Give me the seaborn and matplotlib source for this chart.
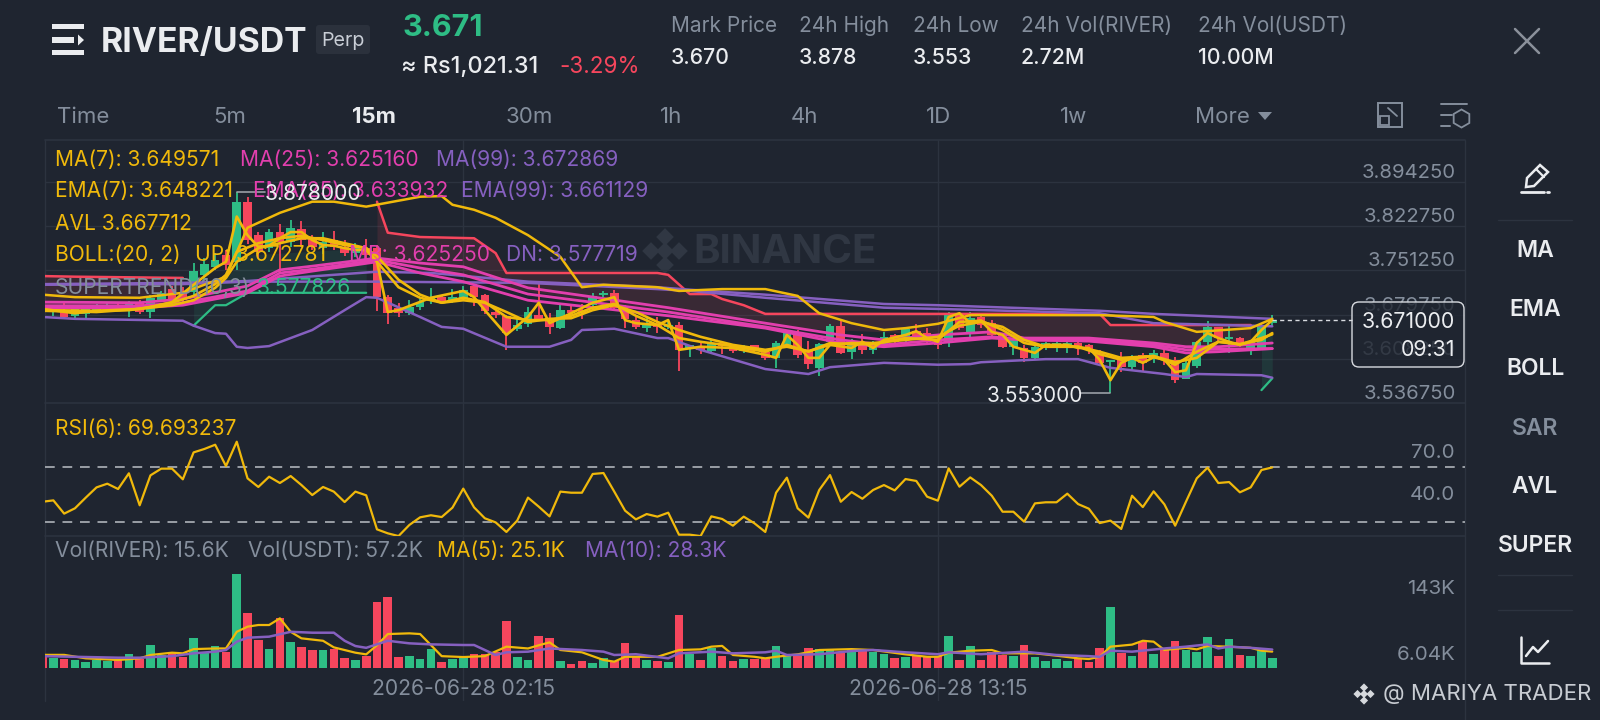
import numpy as np
import matplotlib
matplotlib.use("Agg")
import matplotlib.pyplot as plt
from matplotlib.patches import FancyBboxPatch, Rectangle, Polygon
import seaborn as sns

BG = "#1f2530"; GRID = "#2c333f"; GREEN = "#2EBD85"; RED = "#F6465D"
YEL = "#F0B90B"; MAG = "#E23FAE"; PUR = "#8660C0"; GRAY = "#848E9C"; WHITE = "#EAECEF"

opens = [3.694,3.686,3.687,3.678,3.681,3.687,3.689,3.695,3.691,3.699,3.684,3.703,3.721,3.716,3.716,3.744,3.757,3.776,3.765,3.862,
 3.808,3.787,3.813,3.797,3.818,3.805,3.787,3.800,3.789,3.779,3.787,3.787,3.708,3.691,3.682,3.692,3.702,3.708,3.702,3.707,
 3.726,3.712,3.684,3.678,3.657,3.665,3.679,3.674,3.658,3.687,3.687,3.695,3.712,3.715,3.689,3.671,3.658,3.663,3.660,3.663,
 3.626,3.626,3.621,3.634,3.629,3.621,3.631,3.620,3.610,3.631,3.650,3.623,3.594,3.636,3.662,3.620,3.636,3.623,3.631,3.647,
 3.639,3.653,3.650,3.639,3.636,3.681,3.652,3.676,3.666,3.647,3.628,3.626,3.610,3.628,3.628,3.628,3.634,3.631,3.620,3.603,
 3.607,3.595,3.615,3.610,3.618,3.607,3.576,3.597,3.636,3.660,3.641,3.642,3.626,3.626,3.666]
closes = [3.686,3.694,3.676,3.689,3.689,3.694,3.695,3.689,3.699,3.684,3.707,3.715,3.705,3.703,3.750,3.762,3.768,3.760,3.862,3.800,
 3.781,3.813,3.797,3.820,3.800,3.789,3.797,3.789,3.779,3.789,3.776,3.708,3.682,3.682,3.692,3.700,3.708,3.702,3.708,3.720,
 3.708,3.686,3.679,3.650,3.663,3.684,3.673,3.660,3.687,3.682,3.682,3.710,3.715,3.691,3.673,3.660,3.663,3.660,3.663,3.623,
 3.631,3.623,3.634,3.629,3.621,3.628,3.621,3.610,3.634,3.650,3.615,3.600,3.632,3.662,3.618,3.634,3.623,3.634,3.644,3.636,
 3.657,3.642,3.636,3.631,3.681,3.658,3.674,3.663,3.647,3.628,3.639,3.610,3.628,3.634,3.634,3.634,3.626,3.623,3.602,3.607,
 3.595,3.610,3.602,3.618,3.607,3.574,3.602,3.636,3.660,3.642,3.644,3.631,3.636,3.662,3.671]
highs = [3.697,3.695,3.699,3.692,3.692,3.697,3.699,3.700,3.702,3.703,3.712,3.718,3.726,3.724,3.763,3.771,3.779,3.784,3.878,3.870,
 3.813,3.818,3.826,3.833,3.831,3.808,3.813,3.815,3.800,3.795,3.802,3.792,3.712,3.699,3.703,3.705,3.723,3.712,3.721,3.726,
 3.729,3.713,3.686,3.679,3.678,3.692,3.729,3.682,3.695,3.694,3.697,3.715,3.718,3.720,3.695,3.676,3.674,3.676,3.668,3.668,
 3.631,3.634,3.639,3.636,3.632,3.631,3.631,3.624,3.637,3.653,3.655,3.637,3.634,3.665,3.670,3.641,3.649,3.637,3.652,3.649,
 3.660,3.665,3.658,3.645,3.684,3.682,3.684,3.678,3.671,3.650,3.642,3.631,3.631,3.636,3.639,3.637,3.636,3.632,3.623,3.607,
 3.620,3.615,3.618,3.623,3.628,3.611,3.610,3.637,3.670,3.660,3.663,3.644,3.639,3.665,3.679]
lows = [3.682,3.678,3.674,3.674,3.674,3.684,3.686,3.686,3.676,3.681,3.674,3.700,3.702,3.700,3.712,3.736,3.752,3.752,3.752,3.794,
 3.771,3.781,3.749,3.789,3.789,3.784,3.778,3.784,3.774,3.773,3.765,3.686,3.665,3.676,3.679,3.687,3.697,3.699,3.699,3.703,
 3.694,3.681,3.674,3.623,3.653,3.660,3.670,3.649,3.657,3.674,3.673,3.691,3.708,3.687,3.658,3.657,3.652,3.650,3.657,3.589,
 3.611,3.616,3.620,3.616,3.618,3.618,3.618,3.607,3.594,3.628,3.610,3.592,3.581,3.631,3.616,3.608,3.616,3.616,3.626,3.631,
 3.634,3.639,3.634,3.624,3.628,3.655,3.642,3.658,3.642,3.626,3.615,3.603,3.608,3.623,3.620,3.618,3.615,3.616,3.599,3.553,
 3.587,3.590,3.587,3.602,3.599,3.570,3.576,3.594,3.631,3.634,3.618,3.628,3.615,3.623,3.662]
volumes = [17,15,14,12,8.3,12,10.4,12,22,13.5,35,20,25,17,47,25,34,25,146,86,43,29,77,40,33,28,28,29,15,12,
 19,103,111,17,18,14,29,9.4,14,16,22,22,25,73,17,12,49,46,11,6,10,7,15,10,38,17,12,10,9,83,
 22,12.5,30,18,10,13.5,13,15,34,18,18,31,29,28,23,28,28,25,21,15,17,19,17,18,50,12,34,12,24,20,
 18,35,17,10,14,11,15,9.4,30,94,23,19,40,21,27,41,27,25,48,18,45,20,19,27,15.6]

boll_up_x = [0,3,9,13,17,19,22,25,27,30,35,37,38,40,42,45,48,50,52,57,59,63,67,70,72,75,78,80,83,86,93,98,103,104,107,112,114]
boll_up = [3.712,3.708,3.707,3.715,3.741,3.820,3.844,3.862,3.862,3.854,3.870,3.871,3.857,3.849,3.836,3.808,3.773,3.724,3.728,3.724,3.718,3.721,3.721,3.710,3.682,3.666,3.655,3.658,3.665,3.679,3.679,3.679,3.676,3.668,3.652,3.658,3.673]
boll_dn_x = [0,3,13,14,16,17,18,19,21,25,28,30,31,35,37,39,43,47,49,50,53,57,58,61,67,71,73,78,83,86,87,93,96,99,104,106,107,113,114]
boll_dn = [3.676,3.673,3.670,3.662,3.650,3.649,3.628,3.626,3.629,3.655,3.687,3.708,3.707,3.676,3.660,3.657,3.628,3.628,3.639,3.655,3.657,3.642,3.642,3.623,3.592,3.584,3.595,3.602,3.599,3.600,3.603,3.608,3.608,3.594,3.584,3.579,3.584,3.582,3.578]
st_red1_x = [0,3,13]
st_red1 = [3.742,3.741,3.739]
st_red2_x = [31,32,35,40,42,43,57,58,60,62,63,65,67,98,99,112]
st_red2 = [3.862,3.812,3.805,3.803,3.779,3.747,3.747,3.744,3.713,3.713,3.705,3.695,3.681,3.681,3.663,3.663]
st_green1_x = [14,16,17,19,30]
st_green1 = [3.662,3.695,3.695,3.715,3.715]
st_green2_x = [113,114]
st_green2 = [3.558,3.577]
ma99_x = [0,13,19,31,36,45,57,60,67,78,83,98,103,114]
ma99 = [3.729,3.731,3.734,3.749,3.747,3.733,3.724,3.720,3.712,3.697,3.695,3.686,3.681,3.673]
ema99_x = [0,13,19,31,45,57,60,67,78,83,98,103,114]
ema99 = [3.728,3.729,3.733,3.733,3.731,3.721,3.718,3.707,3.691,3.689,3.682,3.666,3.661]
mid_x = [0,9,13,19,22,25,31,35,39,45,58,67,74,78,83,88,91,97,103,106,109,114]
ema25 = [3.700,3.699,3.705,3.726,3.752,3.758,3.771,3.763,3.757,3.723,3.691,3.666,3.647,3.639,3.647,3.652,3.642,3.642,3.634,3.628,3.628,3.634]
ma25 = [3.694,3.694,3.699,3.718,3.747,3.753,3.768,3.755,3.744,3.713,3.684,3.660,3.639,3.631,3.639,3.644,3.639,3.639,3.631,3.623,3.624,3.625]
boll_mb = [3.691,3.691,3.695,3.715,3.742,3.750,3.765,3.747,3.733,3.703,3.678,3.658,3.634,3.628,3.634,3.642,3.639,3.637,3.628,3.618,3.620,3.625]
avl_x = [0,3,5,8,10,12,14,16,17,18,19,20,21,22,23,24,25,26,27,28,29,30,31,32,33,36,39,40,41,43,45,46,47,49,51,53,54,55,57,58,59,61,64,67,68,69,70,71,72,73,75,76,77,78,80,81,82,83,84,85,86,87,88,89,90,91,92,93,95,96,97,98,99,100,101,102,103,104,105,106,107,108,109,110,111,112,113,114]
avl = [3.689,3.682,3.686,3.687,3.692,3.700,3.728,3.755,3.765,3.838,
 3.808,3.789,3.791,3.803,3.813,3.813,3.800,3.792,3.791,3.787,
 3.784,3.784,3.765,3.684,3.687,3.707,3.718,3.708,3.687,3.647,
 3.676,3.699,3.666,3.682,3.699,3.708,3.671,3.666,3.663,3.671,
 3.623,3.628,3.626,3.615,3.610,3.647,3.631,3.610,3.610,3.631,
 3.626,3.636,3.626,3.639,3.647,3.653,3.642,3.636,3.676,3.682,
 3.666,3.670,3.652,3.647,3.628,3.623,3.618,3.631,3.631,3.626,
 3.626,3.607,3.574,3.602,3.610,3.602,3.611,3.607,3.587,3.590,
 3.634,3.650,3.642,3.636,3.631,3.636,3.655,3.671]
fast_x = [0,5,9,12,14,16,17,18,20,22,24,26,28,30,31,33,35,37,39,41,43,45,47,49,51,53,55,57,59,61,64,67,69,71,73,75,77,80,83,85,87,89,91,93,96,98,100,103,105,107,109,111,113,114]
ma7 = [3.686,3.684,3.689,3.695,3.703,3.723,3.739,3.765,3.787,3.795,3.803,3.803,3.795,3.787,3.774,3.736,3.712,3.699,3.703,3.699,
 3.684,3.668,3.673,3.674,3.687,3.695,3.684,3.668,3.655,3.644,3.631,3.623,3.628,3.621,3.631,3.634,3.634,3.639,3.644,3.662,
 3.668,3.660,3.639,3.628,3.628,3.620,3.610,3.613,3.603,3.610,3.636,3.632,3.639,3.650]
ema7 = [3.687,3.686,3.689,3.699,3.710,3.729,3.744,3.781,3.795,3.803,3.807,3.800,3.792,3.787,3.765,3.724,3.707,3.699,3.707,3.700,
 3.676,3.671,3.671,3.678,3.691,3.697,3.678,3.663,3.642,3.636,3.629,3.620,3.631,3.620,3.634,3.632,3.632,3.642,3.639,3.668,
 3.670,3.655,3.634,3.628,3.628,3.616,3.607,3.613,3.599,3.620,3.636,3.632,3.642,3.648]

rsi6 = [44.6,45.6,35.9,39.8,47.6,55.1,57.8,53.9,65.4,42,63.9,68.8,68.8,61,80.7,83.2,86.3,70.7,88.5,61.7,
 55.4,62.9,58.3,63.4,56.8,49.5,55.4,52,44.4,52,49.3,24.4,21.5,19.5,27.6,33.2,34.7,33.4,40.3,54.2,
 40.5,32.5,29.5,22.5,30.8,47.6,41,33.9,52,51.2,51.2,64.9,65.6,52,38.1,31.7,35.6,33.7,36.6,20.5,
 20.5,19.5,33.9,32,27.1,33.7,28.8,22.5,51.2,62.2,39.8,33,53.2,64.1,44.6,51.7,46.8,53.2,56.8,52.9,
 61.2,59.8,48.3,45.4,69,55.6,62.4,56.8,49,37.3,37.3,30,43.4,44.2,44.2,50.5,42.9,39.5,29,30.8,
 24.7,49,40.7,52.2,42.7,27.1,44.6,61.7,69.5,58.3,59,51.5,55.1,67.8,69.7]

vol_ma5_x = [0,2,4,7,9,10,12,13,14,16,17,18,19,20,21,22,23,24,26,27,29,30,31,32,34,35,37,39,41,43,45,46,47,48,50,52,53,54,57,59,61,62,63,64,66,67,68,70,72,75,77,80,82,83,84,86,88,89,92,94,96,97,98,99,101,102,103,104,106,107,108,110,112,113,114]
vol_ma5 = [20,20,14.6,12,14.6,19.8,23.4,22.4,29,30,30,56,64,66.6,66.6,77,56,45.8,42,31.7,23.4,20.8,35,52.5,53.6,52.5,18,16.6,18,32.8,30,35,39.5,27.6,24,12,9.4,17,17,27.6,28.6,32.8,34,19.8,17,14.6,17,20.8,27.6,29,27.6,20.8,17,17,23.4,26.5,27.6,22.4,22.4,18.7,14.6,13.5,17,32.8,36,42,40.6,27.6,31,28.6,33.8,32.8,31,26.5,25.1]
vol_ma10_x = [0,3,7,9,12,14,16,17,18,19,21,23,25,27,28,29,30,32,34,36,39,40,42,43,45,47,50,52,53,55,58,59,62,64,67,68,69,72,75,77,80,83,84,87,91,94,97,98,99,101,104,106,108,109,110,112,114]
vol_ma10 = [18,17,15.6,15.6,18,22.4,25,27.6,40.6,46.8,48.4,56,54.6,54.6,42,33.8,31,42,38,36.4,35.4,35.4,19.8,24,25,30,27.6,25,19.8,21,14.6,22.4,25,22.4,24,26.5,19.8,21,26,27.6,24,21,24,21,25,19.8,18,17,26.5,25,30,32.8,36.4,30,32.8,31,28.3]

price_ticks = [3.89425,3.82275,3.75125,3.67975,3.60825,3.53675]
price_tick_labels = ["3.894250","3.822750","3.751250","3.679750","3.608250","3.536750"]
date_ticks = [39,83]
date_labels = ["2026-06-28 02:15","2026-06-28 13:15"]
rsi_levels = [70,30]
timeframes = [("Time",57,"left"),("5m",230,"center"),("30m",529,"center"),("1h",671,"center"),("4h",804,"center"),("1D",939,"center"),("1w",1074,"center"),("More",1195,"left")]
stats = [("Mark Price","3.670",671),("24h High","3.878",799),("24h Low","3.553",913),("24h Vol(RIVER)","2.72M",1021),("24h Vol(USDT)","10.00M",1198)]
side_items = [("MA",251,WHITE),("EMA",310,WHITE),("BOLL",369,WHITE),("SAR",429,GRAY),("AVL",487,WHITE),("SUPER",546,WHITE)]

sns.set_theme(style="dark", rc={"figure.facecolor":BG,"axes.facecolor":"none","savefig.facecolor":BG})
plt.rcParams["font.family"] = ["Inter","DejaVu Sans"]

W, H = 1600, 720
fig = plt.figure(figsize=(W/100, H/100), dpi=100, facecolor=BG)
def pane(l, t, r, b, z):
    a = fig.add_axes([l/W, 1-b/H, (r-l)/W, (b-t)/H], zorder=z)
    a.patch.set_alpha(0)
    for s in a.spines.values():
        s.set_visible(False)
    return a

XL, XR = 44.7, 1465.0
bg = pane(0,0,W,H,0); bg.set_xlim(0,W); bg.set_ylim(H,0); bg.axis("off")
ax_p = pane(XL,140,XR,403.3,2)
ax_r = pane(XL,403.3,XR,535.7,2)
ax_v = pane(XL,535.7,XR,701,2)
fg = pane(0,0,W,H,5); fg.set_xlim(0,W); fg.set_ylim(H,0); fg.axis("off")

idx = np.arange(len(opens))
o, c, hi, lo = map(np.array, (opens, closes, highs, lows))
up = c >= o
cols = np.where(up, GREEN, RED)
xlim = (0.195, 131.87)

def line(ax, x, y, col, lw=1.8, z=4):
    sns.lineplot(x=x, y=y, ax=ax, color=col, linewidth=lw, estimator=None, sort=False, legend=False, zorder=z)

# price pane
ax_p.fill_between(st_red2_x, st_red2, np.interp(st_red2_x, mid_x, ma25), color=RED, alpha=0.12, lw=0, zorder=1)
ax_p.fill_between(st_red1_x, st_red1, np.interp(st_red1_x, mid_x, ma25), color=RED, alpha=0.12, lw=0, zorder=1)
ax_p.fill_between(st_green1_x, st_green1, np.interp(st_green1_x, fast_x, ma7), color=GREEN, alpha=0.10, lw=0, zorder=1)
ax_p.fill_between(st_green2_x, st_green2, np.interp(st_green2_x, fast_x, ma7), color=GREEN, alpha=0.12, lw=0, zorder=1)
ax_p.vlines(idx, lo, hi, colors=cols, linewidth=1.3, zorder=2)
ax_p.bar(idx, np.abs(c-o), bottom=np.minimum(o,c), width=0.8, color=cols, linewidth=0, zorder=3)
for x_, y_ in ((st_red1_x,st_red1),(st_red2_x,st_red2)):
    line(ax_p, x_, y_, RED, 1.8)
for x_, y_ in ((st_green1_x,st_green1),(st_green2_x,st_green2)):
    line(ax_p, x_, y_, GREEN, 1.6)
line(ax_p, ma99_x, ma99, PUR); line(ax_p, ema99_x, ema99, PUR); line(ax_p, boll_dn_x, boll_dn, PUR)
line(ax_p, mid_x, boll_mb, MAG, 2.0); line(ax_p, mid_x, ma25, MAG, 2.0); line(ax_p, mid_x, ema25, MAG, 2.0)
line(ax_p, boll_up_x, boll_up, YEL); line(ax_p, fast_x, ma7, YEL, 1.9); line(ax_p, fast_x, ema7, YEL, 1.9); line(ax_p, avl_x, avl, YEL, 1.9)
ax_p.set_xlim(*xlim); ax_p.set_ylim(3.53675, 3.9615)
ax_p.set_yticks(price_ticks); ax_p.set_yticklabels([]); ax_p.set_xticks(date_ticks); ax_p.set_xticklabels([])
ax_p.grid(True, color=GRID, lw=1); ax_p.tick_params(length=0)
ax_p.set_xlabel(""); ax_p.set_ylabel("")
tr = ax_p.get_yaxis_transform()
for t, l in zip(price_ticks, price_tick_labels):
    ax_p.annotate(l, xy=(1,t), xycoords=tr, xytext=(-6.7,6.4), textcoords="offset points", ha="right", va="center", color=GRAY, fontsize=14.6, zorder=1)

# RSI pane
line(ax_r, idx, rsi6, YEL, 1.6)
for lv in rsi_levels:
    ax_r.axhline(lv, color="#9a9fa6", lw=1.4, dashes=(5,4), zorder=3)
ax_r.set_xlim(*xlim); ax_r.set_ylim(19.76, 116.6)
ax_r.set_yticks([]); ax_r.set_xticks(date_ticks); ax_r.set_xticklabels([])
ax_r.grid(True, axis="x", color=GRID, lw=1); ax_r.tick_params(length=0)
ax_r.set_xlabel(""); ax_r.set_ylabel("")

# volume pane
dirs = np.where(up, "up", "down")
sns.barplot(x=idx, y=volumes, hue=dirs, palette={"up":GREEN,"down":RED}, native_scale=True, dodge=False,
            legend=False, saturation=1, width=0.8, linewidth=0, ax=ax_v, zorder=2)
line(ax_v, vol_ma5_x, vol_ma5, YEL, 1.6); line(ax_v, vol_ma10_x, vol_ma10, PUR, 1.8)
ax_v.set_xlim(*xlim); ax_v.set_ylim(-52, 206)
ax_v.set_yticks([]); ax_v.set_xticks(date_ticks); ax_v.set_xticklabels(date_labels, color=GRAY, fontsize=15.2)
ax_v.grid(True, axis="x", color=GRID, lw=1); ax_v.tick_params(axis="x", length=0, pad=-16)
ax_v.set_axisbelow(True); ax_v.set_xlabel(""); ax_v.set_ylabel("")

def T(x, y, s, col=WHITE, size=13.5, ha="left", weight="normal", a=fg, z=6, **k):
    return a.text(x, y+4.5, s, color=col, fontsize=size, ha=ha, va="center", fontweight=weight, zorder=z, **k)

# frame lines
for y_ in (140,403.3,535.7):
    bg.plot([XL,XR],[y_,y_],color=GRID,lw=1.2)
bg.plot([XL,XL],[140,701],color=GRID,lw=1)
bg.plot([XR,XR],[140,720],color=GRID,lw=1)

# watermark
T(693,248,"BINANCE","#303743",29,weight="bold",a=bg,z=1)
def diamonds(a, cx, cy, s, col, z):
    for dx,dy,r in ((0,-s,.42),(0,s,.42),(-s,0,.42),(s,0,.42),(0,0,.42)):
        a.add_patch(Polygon([(cx+dx,cy+dy-s*r*1.5),(cx+dx+s*r*1.5,cy+dy),(cx+dx,cy+dy+s*r*1.5),(cx+dx-s*r*1.5,cy+dy)],color=col,lw=0,zorder=z))
diamonds(bg,665,251,14,"#303743",1)

# header
for yy,xx in ((26.5,84),(52.5,84)):
    fg.add_patch(Rectangle((52,yy-2.7),xx-52,5.4,color=WHITE,lw=0))
fg.add_patch(Rectangle((52,37),22,5.6,color=WHITE,lw=0))
fg.add_patch(Polygon([(78,34.5),(84,40),(78,45.5)],color=WHITE,lw=0))
T(101,38.5,"RIVER/USDT",WHITE,24.3,weight="bold")
fg.add_patch(FancyBboxPatch((316,25),54,29,boxstyle="round,pad=0,rounding_size=3",fc="#2b313c",ec="none"))
T(343,37,"Perp","#c9ced6",14.2,ha="center")
T(403,23,"3.671",GREEN,22,weight="bold")
T(401,62.5,"≈ Rs1,021.31",WHITE,16.9,weight="medium")
T(559,62.5,"-3.29%",RED,16.2)
for lab,val,xx in stats:
    T(xx,21.5,lab,GRAY,15); T(xx,53,val,WHITE,15.3,weight="medium")
for d in (1,-1):
    fg.plot([1515,1539],[41-d*12,41+d*12],color="#8a909a",lw=1.8)

# timeframes
for lab,xx,ha in timeframes:
    T(xx,112.5,lab,GRAY,16,ha=ha)
T(374,112.5,"15m",WHITE,16,ha="center",weight="bold")
fg.add_patch(Polygon([(1258,112),(1272,112),(1265,120)],color=GRAY,lw=0))
fg.add_patch(Rectangle((1378,103),24,24,fc="none",ec=GRAY,lw=1.4))
fg.add_patch(Rectangle((1380,116),9,9,fc=BG,ec=GRAY,lw=1.3))
fg.plot([1388,1397],[108,116],color=GRAY,lw=1.3)
fg.plot([1441,1467],[104,104],color=GRAY,lw=1.4)
fg.plot([1441,1452],[115,115],color=GRAY,lw=1.4)
fg.plot([1441,1450],[126,126],color=GRAY,lw=1.4)
fg.plot([1461],[118],marker="h",ms=13,mfc="none",mec=GRAY,mew=1.3)

# legends
LS = 15.1
T(55,155.5,"MA(7): 3.649571",YEL,LS); T(240,155.5,"MA(25): 3.625160",MAG,LS); T(436,155.5,"MA(99): 3.672869",PUR,LS)
T(55,186.5,"EMA(7): 3.648221",YEL,LS); T(253,186.5,"EMA(25): 3.633932",MAG,LS); T(461,186.5,"EMA(99): 3.661129",PUR,LS)
T(55,219,"AVL 3.667712",YEL,LS)
T(55,250.5,"BOLL:(20, 2)",YEL,LS); T(195,250.5,"UP: 3.672781",YEL,LS); T(349,250.5,"MB: 3.625250",MAG,LS); T(506,250.5,"DN: 3.577719",PUR,LS)
T(55,283,"SUPERTREND(10,3)",GRAY,LS); T(257,283,"3.577826",GREEN,LS)
T(55,424,"RSI(6): 69.693237",YEL,LS)
T(55,546.5,"Vol(RIVER): 15.6K",GRAY,LS); T(248,546.5,"Vol(USDT): 57.2K",GRAY,LS); T(437,546.5,"MA(5): 25.1K",YEL,LS); T(585,546.5,"MA(10): 28.3K",PUR,LS)

# high / low callouts
fg.plot([236.5,265],[191.7,191.7],color="#9a9fa6",lw=1.2)
T(265,189.5,"3.878000",WHITE,15.2)
fg.plot([1080,1110],[393.3,393.3],color="#9a9fa6",lw=1.2)
T(987,391.5,"3.553000",WHITE,15)

# axis labels
for s,y_ in (("70.0",449),("40.0",490),("143K",585),("6.04K",651)):
    T(1455,y_,s,GRAY,14.8,ha="right")

# last price
fg.plot([1272,1352],[320.3,320.3],color="#d8dbe0",lw=1,dashes=(3,2.5))
fg.add_patch(FancyBboxPatch((1352,302),112,65,boxstyle="round,pad=0,rounding_size=7",fc=(0.122,0.145,0.188,0.8),ec="#d8dbe0",lw=1))
T(1455,318,"3.671000",WHITE,15.4,ha="right")
T(1455,346,"09:31",WHITE,15.4,ha="right")

# sidebar
for y_ in (220,575,610):
    fg.plot([1498,1572],[y_,y_],color=GRID,lw=1)
for s,y_,col in side_items:
    T(1535,y_-4.5,s,col,16.5,ha="center",weight="semibold")
fg.plot([1521,1544],[192,192],color=WHITE,lw=2)
fg.plot([1547,1549],[192,192],color=WHITE,lw=2)
fg.add_patch(Polygon([(1527,178),(1540,165),(1548,172),(1534,186),(1526,187)],fc="none",ec=WHITE,lw=1.8))
fg.plot([1536,1544],[169,177],color=WHITE,lw=1.6)
fg.plot([1521,1521,1549],[637,663,663],color=WHITE,lw=1.8)
fg.plot([1526,1533,1538,1548],[656,647,652,641],color=WHITE,lw=1.8)

# footer watermark
diamonds(fg,1364,694,6.5,"#d5d8dc",6)
T(1383,690,"@ MARIYA TRADER","#c8ccd2",16)

fig.savefig("out.png", dpi=100, facecolor=BG)
